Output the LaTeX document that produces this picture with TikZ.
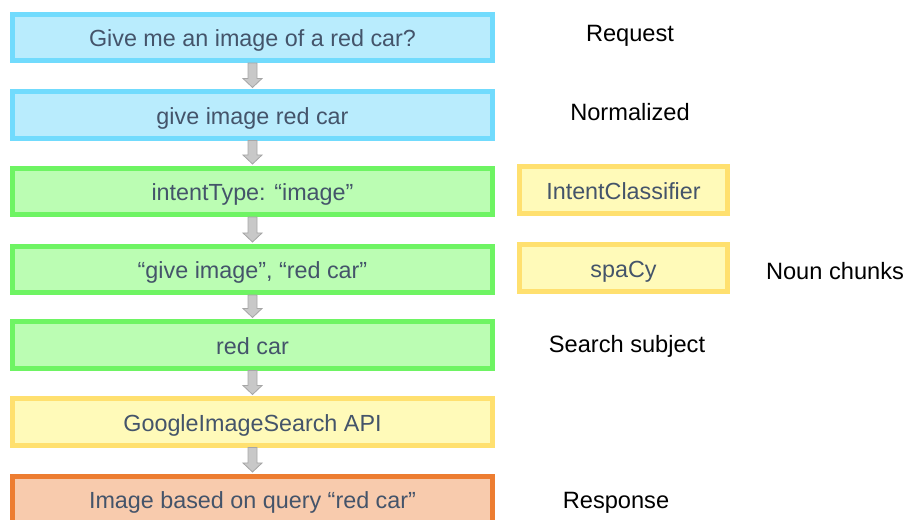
\documentclass[tikz,border=0pt]{standalone}
\usepackage{fontspec}
\setmainfont{Liberation Sans}
\usepackage{tikz}
\usetikzlibrary{positioning, calc}

\begin{document}
\begin{tikzpicture}[x=0.025cm, y=-0.025cm,
        box/.style={draw, line width=5*0.025cm, minimum width=12cm, minimum height=1.15cm,
            text height=12.8pt, text depth=0pt, text=textgray, font=\fontsize{16.6}{19}\selectfont},
        sidebox/.style={box, minimum width=5.2cm, draw=yellowline, fill=yellowfill},
        label/.style={text=black, font=\fontsize{16.8}{19}\selectfont},
        flowarrow/.style={draw=arrowline, fill=arrowfill, line width=0.6pt, line join=miter}]
                \definecolor{textgray}{HTML}{44546A}
                \definecolor{blueline}{HTML}{71DBFD}
                \definecolor{bluefill}{HTML}{B9ECFD}
                \definecolor{greenline}{HTML}{6EF463}
                \definecolor{greenfill}{HTML}{BBFDB3}
                \definecolor{yellowline}{HTML}{FFE06F}
                \definecolor{yellowfill}{HTML}{FFFAB9}
                \definecolor{orangeline}{HTML}{ED7D31}
                \definecolor{orangefill}{HTML}{F8CBAD}
                \definecolor{arrowline}{HTML}{A6A6A6}
                \definecolor{arrowfill}{HTML}{C8C8C8}

                \useasboundingbox (0,0) rectangle (904,520);

                % --- Main flow ---
                \node[box, draw=blueline, fill=bluefill] (request) at (252.5, 37.5) {Give me an image of a red car?};
                \node[box, draw=blueline, fill=bluefill] (normal) at (252.5, 115) {give image red car};
                \node[box, draw=greenline, fill=greenfill] (intent) at (252.5, 191.5) {intentType: “image”};
                \node[box, draw=greenline, fill=greenfill] (chunks) at (252.5, 269.5) {“give image”, “red car”};
                \node[box, draw=greenline, fill=greenfill] (subject) at (252.5, 345) {red car};
                \node[box, draw=yellowline, fill=yellowfill] (search) at (252.5, 422) {GoogleImageSearch API};
                \node[box, draw=orangeline, fill=orangefill] (response) at (252.5, 499.5) {Image based on query “red car”};

                % --- Tools ---
                \node[sidebox] (classifier) at (623.5, 190) {IntentClassifier};
                \node[sidebox] (spacy) at (623.5, 268) {spaCy};

                % --- Labels ---
                \node[label] (lreq) at (630, 36) {Request};
                \node[label] (lnorm) at (630, 112) {Normalized};
                \node[label] (lchunks) at (835, 271) {Noun chunks};
                \node[label] (lsubject) at (627, 346) {Search subject};
                \node[label] (lresp) at (616, 503) {Response};

                % --- Block arrows ---
                \foreach \a/\b in {request/normal, normal/intent, intent/chunks, chunks/subject, subject/search, search/response} {
                    \draw[flowarrow] ($(\a.south)+(-4.5,0)$) -- ($(\b.north)+(-4.5,-11)$) -- ($(\b.north)+(-9.5,-11)$)
                        -- ($(\b.north)+(0,-2)$) -- ($(\b.north)+(9.5,-11)$) -- ($(\b.north)+(4.5,-11)$)
                        -- ($(\a.south)+(4.5,0)$) -- cycle;
                }
            \end{tikzpicture}
\end{document}
